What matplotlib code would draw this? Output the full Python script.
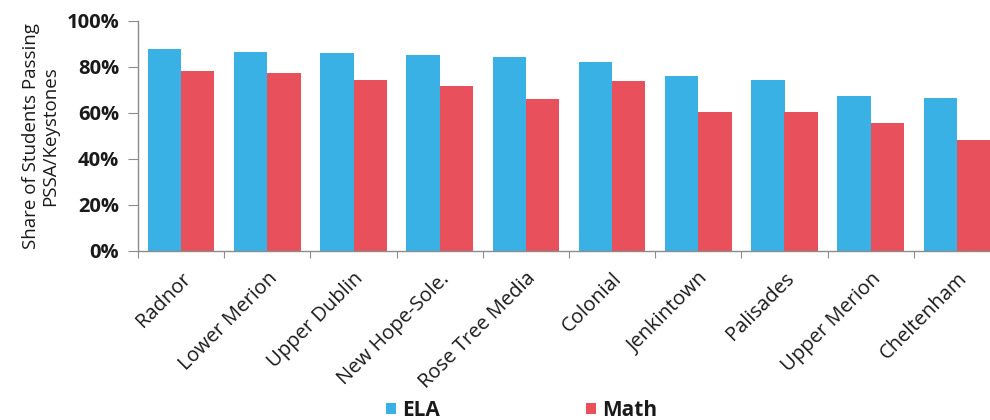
import matplotlib
matplotlib.use("Agg")
import matplotlib.pyplot as plt
import numpy as np
from matplotlib.ticker import PercentFormatter, FixedLocator

districts = ["Radnor", "Lower Merion", "Upper Dublin", "New Hope-Sole.",
             "Rose Tree Media", "Colonial", "Jenkintown", "Palisades",
             "Upper Merion", "Cheltenham"]
ela = [87.8, 86.4, 86.1, 85.2, 84.1, 82.0, 76.0, 74.4, 67.4, 66.3]
math_scores = [78.3, 77.4, 74.2, 71.5, 65.8, 73.6, 60.4, 60.3, 55.7, 48.3]
yticks = [0, 20, 40, 60, 80, 100]

BLUE = "#3AB1E4"
RED = "#E8505B"
TEXT = "#1a1a1a"
AXIS = "#8c8c8c"

plt.rcParams["font.family"] = ["Open Sans", "DejaVu Sans"]

fig = plt.figure(figsize=(9.9, 4.2), dpi=100)
ax = fig.add_axes([138 / 990, (420 - 250.7) / 420, 862 / 990, 230 / 420])

x = np.arange(len(districts))
w = 0.386
ax.bar(x - w / 2, ela, width=w, color=BLUE, label="ELA")
ax.bar(x + w / 2, math_scores, width=w, color=RED, label="Math")

ax.set_xlim(-0.5, len(districts) - 0.5)
ax.set_ylim(0, 100)
ax.set_yticks(yticks)
ax.yaxis.set_major_formatter(PercentFormatter(decimals=0))

for s in ["top", "right"]:
    ax.spines[s].set_visible(False)
for s in ["left", "bottom"]:
    ax.spines[s].set_color(AXIS)
    ax.spines[s].set_linewidth(1.0)

ax.tick_params(axis="y", length=7.5, color=AXIS, pad=6, labelsize=14.5,
               labelcolor=TEXT)
for lab in ax.get_yticklabels():
    lab.set_fontweight("bold")

# category boundary ticks on the x axis, labels at the centres
ax.xaxis.set_major_locator(FixedLocator(np.arange(len(districts) + 1) - 0.5))
ax.xaxis.set_major_formatter(plt.NullFormatter())
ax.set_xticks(x, districts, minor=True)
ax.tick_params(axis="x", which="major", length=5, color=AXIS)
ax.tick_params(axis="x", which="minor", length=0, pad=13, labelsize=14.5,
               labelcolor=TEXT)
for lab in ax.get_xticklabels(minor=True):
    lab.set_rotation(45)
    lab.set_ha("right")
    lab.set_va("top")
    lab.set_rotation_mode("anchor")

ax.set_ylabel("Share of Students Passing\nPSSA/Keystones", fontsize=13.5,
              color=TEXT, linespacing=1.05)
ax.yaxis.set_label_coords(-0.092, 0.5)

leg = fig.legend(loc="lower center", bbox_to_anchor=(0.527, -0.047), ncol=2,
                 frameon=False, fontsize=15, handlelength=0.48,
                 handleheight=0.48, handletextpad=0.3, columnspacing=7.0)
for t in leg.get_texts():
    t.set_fontweight("bold")
    t.set_color(TEXT)

fig.savefig("out.png", dpi=100)
